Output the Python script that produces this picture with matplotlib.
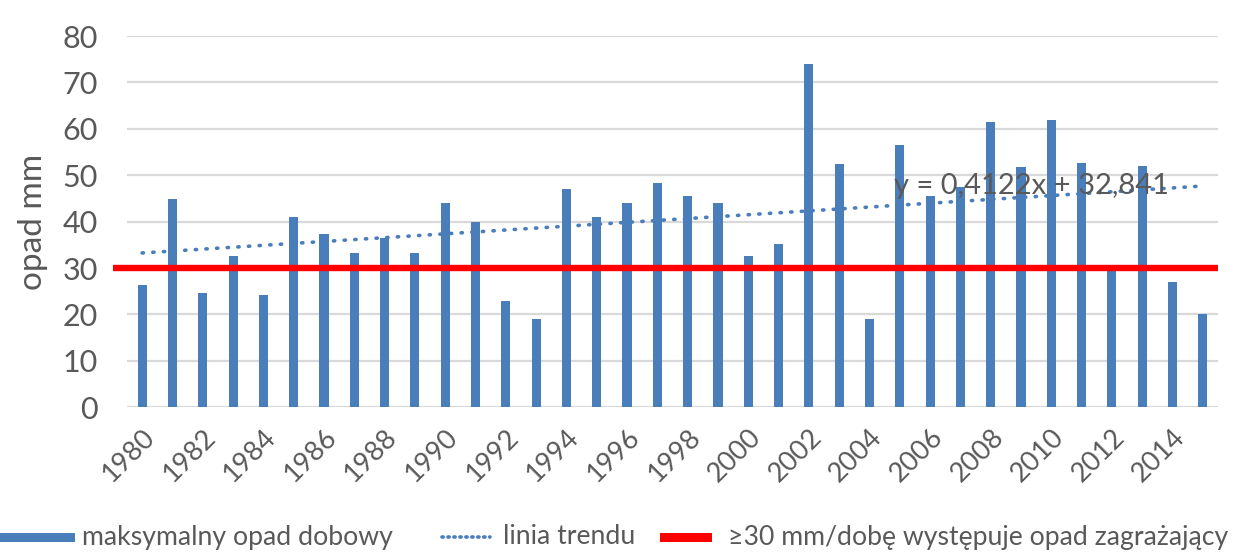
import matplotlib
matplotlib.use("Agg")
import matplotlib.pyplot as plt
import numpy as np
from matplotlib.patches import Rectangle
from matplotlib.lines import Line2D

plt.rcParams['font.family'] = ['Lato', 'DejaVu Sans']

years = list(range(1980, 2016))
max_daily_precip = [26.4, 44.8, 24.6, 32.5, 24.2, 41.1, 37.3, 33.2, 36.4, 33.2,
                    44.1, 40.0, 23.0, 19.0, 47.0, 41.1, 44.1, 48.3, 45.6, 44.1,
                    32.5, 35.1, 73.9, 52.4, 19.0, 56.5, 45.6, 47.5, 61.4, 51.7,
                    61.9, 52.7, 29.6, 52.0, 26.9, 20.1]
tick_years = years[::2]
threshold = 30
trend_slope = 0.4122
trend_intercept = 32.841
y_ticks = [0, 10, 20, 30, 40, 50, 60, 70, 80]

label_bars = "maksymalny opad dobowy"
label_trend = "linia trendu"
label_thr = "≥30 mm/dobę występuje opad zagrażający"
y_label = "opad mm"

BLUE = "#4A7EBB"
GRID = "#D9D9D9"
TEXT = "#595959"
RED = "#FF0000"

W, H = 1240, 552
fig = plt.figure(figsize=(W / 100, H / 100), dpi=100)
ax = fig.add_axes([127 / W, 1 - 407.3 / H, (1218 - 127) / W, (407.3 - 36) / H])

x = np.arange(len(years))
ax.bar(x, max_daily_precip, width=0.3, color=BLUE, zorder=2)

t = np.arange(1, len(years) + 1)
trend = trend_slope * t + trend_intercept
ax.plot(x, trend, color=BLUE, lw=2.6, linestyle=(0, (0.35, 2.6)),
        dash_capstyle='round', zorder=3)

ax.plot([-0.97, len(years) - 0.5], [threshold, threshold], color=RED, lw=4.6,
        solid_capstyle='butt', zorder=4, clip_on=False)

ax.text(24.8, 47.6, "y = 0,4122x + 32,841", color=TEXT, fontsize=21,
        ha='left', va='center', zorder=5)

ax.set_xlim(-0.5, len(years) - 0.5)
ax.set_ylim(0, 80)
ax.set_yticks(y_ticks)
ax.set_yticklabels([str(v) for v in y_ticks], fontsize=22, color=TEXT)
ax.set_xticks([years.index(y) for y in tick_years])
ax.set_xticklabels([str(y) for y in tick_years], rotation=45, ha='right',
                   rotation_mode='anchor', fontsize=19.5, color=TEXT)
ax.tick_params(axis='y', length=0, pad=21)
ax.tick_params(axis='x', length=0, pad=12)
ax.grid(axis='y', color=GRID, lw=1.6, zorder=0)
ax.set_axisbelow(True)
for s in ax.spines.values():
    s.set_visible(False)
ax.set_ylabel(y_label, fontsize=24, color=TEXT)
ax.yaxis.set_label_coords(-(127 - 48) / (1218 - 127), 0.5)

# legend drawn in figure pixel positions
ly = 1 - 537 / H
def fx(px):
    return px / W
def fh(px):
    return px / H

LEG_FS = 19.2
fig.patches.append(Rectangle((fx(0), ly - fh(4.5)), fx(75), fh(9), transform=fig.transFigure,
                             facecolor=BLUE, edgecolor='none'))
fig.text(fx(82), ly, label_bars, fontsize=LEG_FS, color=TEXT, ha='left', va='center')
fig.lines.append(Line2D([fx(442), fx(490)], [ly, ly], transform=fig.transFigure,
                        color=BLUE, lw=2.6, linestyle=(0, (0.35, 1.3)), dash_capstyle='round'))
fig.text(fx(503), ly, label_trend, fontsize=LEG_FS, color=TEXT, ha='left', va='center')
fig.patches.append(Rectangle((fx(660), ly - fh(4.5)), fx(52), fh(9), transform=fig.transFigure,
                             facecolor=RED, edgecolor='none'))
fig.text(fx(728), ly, label_thr, fontsize=LEG_FS, color=TEXT, ha='left', va='center')

fig.savefig("out.png", dpi=100)
